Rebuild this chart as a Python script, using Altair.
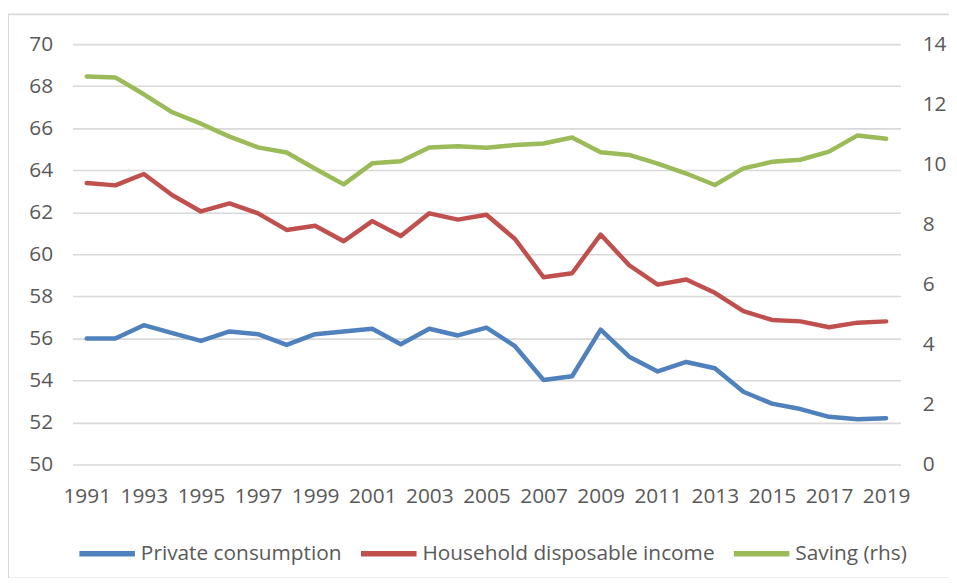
import altair as alt
import pandas as pd

years = list(range(1991, 2020))

private_consumption = [56.0, 56.0, 56.63, 56.25, 55.88, 56.33, 56.2, 55.69, 56.2, 56.33,
                       56.46, 55.72, 56.46, 56.14, 56.51, 55.63, 54.02, 54.2, 56.42, 55.13,
                       54.43, 54.88, 54.58, 53.46, 52.9, 52.64, 52.27, 52.15, 52.2]

household_income = [63.39, 63.28, 63.82, 62.81, 62.04, 62.42, 61.95, 61.16, 61.36, 60.62,
                    61.58, 60.87, 61.95, 61.65, 61.88, 60.73, 58.91, 59.1, 60.94, 59.48,
                    58.56, 58.8, 58.17, 57.3, 56.88, 56.81, 56.53, 56.75, 56.81]

saving = [12.92, 12.89, 12.33, 11.73, 11.35, 10.92, 10.56, 10.39, 9.85, 9.33,
          10.03, 10.1, 10.56, 10.6, 10.55, 10.64, 10.69, 10.89, 10.4, 10.31,
          10.02, 9.69, 9.31, 9.86, 10.08, 10.15, 10.42, 10.96, 10.85]

series_names = ["Private consumption", "Household disposable income", "Saving (rhs)"]
series_colors = ["#4F81BD", "#C0504D", "#9BBB59"]

left_ticks = [50, 52, 54, 56, 58, 60, 62, 64, 66, 68, 70]
right_ticks = [0, 2, 4, 6, 8, 10, 12, 14]
x_ticks = list(range(1991, 2020, 2))

rows = []
for name, vals in zip(series_names, [private_consumption, household_income, saving]):
    for y, v in zip(years, vals):
        rows.append({"year": y, "series": name, "value": v})
df = pd.DataFrame(rows)

FONT = "Open Sans"
TXT = "#595959"
FS = 21

x_enc = alt.X("year:Q",
              scale=alt.Scale(domain=[1990.5, 2019.5], nice=False, zero=False),
              axis=alt.Axis(values=x_ticks, format="d", title=None, grid=False,
                            domain=False, ticks=False, labelPadding=21,
                            labelFontSize=FS, labelColor=TXT, labelFont=FONT,
                            labelOverlap=False, labelFlush=False))

color_enc = alt.Color("series:N",
                      scale=alt.Scale(domain=series_names, range=series_colors),
                      legend=alt.Legend(orient="none", direction="horizontal",
                                        legendX=4, legendY=483, title=None,
                                        symbolType="stroke", symbolSize=3136,
                                        symbolStrokeWidth=5.5, labelOffset=3,
                                        columnPadding=8, labelFontSize=FS,
                                        labelFont=FONT, labelColor=TXT,
                                        padding=0, columns=3,
                                        labelLimit=400))

base = alt.Chart(df)

left = base.transform_filter(
    alt.FieldOneOfPredicate(field="series", oneOf=series_names[:2])
).mark_line(strokeWidth=4.5, strokeCap="round", strokeJoin="round").encode(
    x=x_enc,
    y=alt.Y("value:Q", scale=alt.Scale(domain=[50, 70], nice=False, zero=False),
            axis=alt.Axis(values=left_ticks, title=None, orient="left", grid=True,
                          gridColor="#D9D9D9", gridWidth=1.6, domain=False,
                          ticks=False, labelPadding=20, labelFontSize=FS,
                          labelColor=TXT, labelFont=FONT)),
    color=color_enc,
)

right = base.transform_filter(
    alt.FieldEqualPredicate(field="series", equal=series_names[2])
).mark_line(strokeWidth=4.5, strokeCap="round", strokeJoin="round").encode(
    x=x_enc,
    y=alt.Y("value:Q", scale=alt.Scale(domain=[0, 14], nice=False, zero=False),
            axis=alt.Axis(values=right_ticks, title=None, orient="right", grid=False,
                          domain=False, ticks=False, labelPadding=22,
                          labelFontSize=FS, labelColor=TXT, labelFont=FONT)),
    color=color_enc,
)

frame = alt.Chart(pd.DataFrame({"k": [0]})).mark_rect(
    fill=None, stroke="#D9D9D9", strokeWidth=2
).encode(
    x=alt.value(-65), x2=alt.value(920), y=alt.value(-30), y2=alt.value(539)
)

chart = alt.layer(frame, left, right).resolve_scale(y="independent").properties(
    width=835,
    height=424,
    autosize=alt.AutoSizeParams(type="none"),
    padding={"left": 65, "top": 34, "right": 49, "bottom": 112},
    background="white",
).configure_view(stroke=None)

chart.save("out.html", embed_options={"renderer": "svg", "actions": False})
